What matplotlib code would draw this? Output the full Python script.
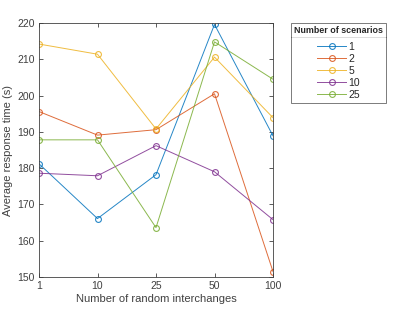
import matplotlib
matplotlib.use("Agg")
import matplotlib.pyplot as plt
from matplotlib.lines import Line2D

x_labels = ["1", "10", "25", "50", "100"]
series_names = ["1", "2", "5", "10", "25"]
s1 = [181.2, 166.1, 178.2, 219.6, 188.9]
s2 = [195.6, 189.1, 190.6, 200.5, 151.5]
s5 = [214.2, 211.4, 190.8, 210.6, 193.9]
s10 = [178.6, 177.9, 186.2, 179.0, 165.8]
s25 = [187.8, 187.8, 163.6, 214.8, 204.5]
colors = ["#0072BD", "#D95319", "#EDB120", "#7E2F8E", "#77AC30"]

plt.rcParams['font.family'] = ['Liberation Sans', 'DejaVu Sans']
fig = plt.figure(figsize=(4.15, 3.12), dpi=100)
ax = fig.add_axes([39/415, 35/312, 234/415, 254/312])
xs = list(range(len(x_labels)))
handles = []
for name, vals, c in zip(series_names, [s1, s2, s5, s10, s25], colors):
    h, = ax.plot(xs, vals, color=c, lw=0.7, marker='o', ms=4.2, mfc='none', mew=0.8,
                 label=name, alpha=0.85)
    handles.append(h)

ax.set_xlim(0, 4)
ax.set_ylim(150, 220)
ax.set_xticks(xs)
ax.set_xticklabels(x_labels)
ax.set_yticks(range(150, 221, 10))
ax.tick_params(direction='in', top=True, right=True, length=3, width=0.6,
               labelsize=7.5, colors='#404040', pad=3)
for sp in ax.spines.values():
    sp.set_color('#404040')
    sp.set_linewidth(0.6)
ax.set_xlabel("Number of random interchanges", fontsize=8, color='#404040', labelpad=2)
ax.set_ylabel("Average response time (s)", fontsize=8, color='#404040', labelpad=3)

leg = fig.legend(handles=handles, loc='upper left', bbox_to_anchor=(291/415, 1-23/312),
                 title="Number of scenarios", fontsize=7.5, frameon=True, fancybox=False,
                 edgecolor='#404040', handlelength=2.8, labelspacing=0.18, borderpad=0.3,
                 handletextpad=0.2, borderaxespad=0, alignment='center')
leg.get_title().set_fontweight('bold')
leg.get_title().set_fontsize(6.4)
leg.get_title().set_color('#262626')
leg._legend_box.sep = 5
for t in leg.get_texts():
    t.set_color('#262626')
leg.get_frame().set_linewidth(0.6)
fig.add_artist(Line2D([291/415, 386/415], [1-37/312, 1-37/312], color='#404040', lw=0.6,
                      transform=fig.transFigure))

fig.savefig("out.png", dpi=100)
